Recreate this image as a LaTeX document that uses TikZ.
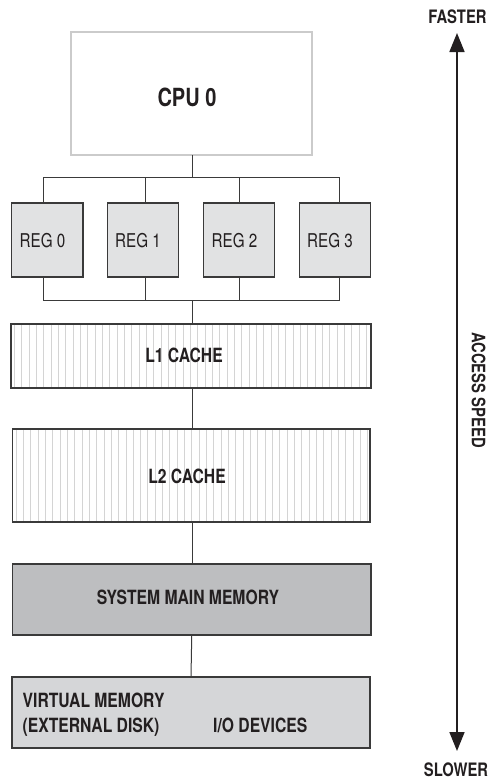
\documentclass[tikz,border=0pt]{standalone}
\usepackage{fontspec}
\setmainfont{TeX Gyre Heros}[FakeStretch=0.8]
\usetikzlibrary{arrows.meta}
\definecolor{boxline}{HTML}{3A3A3A}
\definecolor{cpuborder}{HTML}{CBCBCB}
\definecolor{regfill}{HTML}{E1E2E3}
\definecolor{smmfill}{HTML}{BDBEC0}
\definecolor{vmfill}{HTML}{D5D6D8}
\definecolor{hatchcol}{HTML}{D4D4D4}
\definecolor{txt}{HTML}{231F20}
\tikzset{
  box/.style={draw=boxline, line width=1.2pt, inner sep=0pt, outer sep=0pt, rectangle},
  cpubox/.style={draw=cpuborder, line width=2pt, fill=white, inner sep=0pt, outer sep=0pt, rectangle},
  regbox/.style={box, fill=regfill, minimum width=71.5pt, minimum height=74pt},
  hatched/.style={box, fill=white, path picture={
      \foreach \i in {0,...,52}{
        \draw[hatchcol, line width=0.9pt]
          ([xshift={3.5+7.33*\i}] path picture bounding box.south west) --
          ([xshift={3.5+7.33*\i}] path picture bounding box.north west);
      }}},
  wire/.style={draw=boxline, line width=1pt},
  lbl/.style={text=txt, inner sep=0pt, font=\bfseries\fontsize{19.6}{22}\selectfont, anchor=base},
  sidelbl/.style={text=txt, inner sep=0pt, font=\bfseries\fontsize{18.5}{22}\selectfont, anchor=base},
  reglbl/.style={text=txt, inner sep=0pt, font=\fontsize{19}{22}\selectfont, anchor=base},
  speedarrow/.style={draw=txt, line width=1.7pt, {Triangle[length=19pt,width=15pt]}-{Triangle[length=19pt,width=15pt]}}
}
\begin{document}
\begin{tikzpicture}[x=1pt,y=-1pt]
\useasboundingbox (0,0) rectangle (491,780);

% CPU
\node[cpubox, minimum width=241pt, minimum height=123pt] (cpu) at (191.5,93.5) {};
\node[lbl, font=\bfseries\fontsize{25}{28}\selectfont] (cputxt) at (187,106.5) {CPU 0};

% registers
\node[regbox] (r0) at (47.25,240) {};
\node[regbox] (r1) at (143,240) {};
\node[regbox] (r2) at (239,240) {};
\node[regbox] (r3) at (335,240) {};
\node[reglbl] (r0t) at (42.5,247) {REG 0};
\node[reglbl] (r1t) at (138,247) {REG 1};
\node[reglbl] (r2t) at (234.5,247) {REG 2};
\node[reglbl] (r3t) at (330,247) {REG 3};

% caches and memory
\node[hatched, minimum width=360pt, minimum height=64pt] (l1) at (191,356) {};
\node[lbl] (l1t) at (184,362) {L1 CACHE};
\node[hatched, minimum width=357.5pt, minimum height=93pt] (l2) at (191.25,475.5) {};
\node[lbl] (l2t) at (187,483.5) {L2 CACHE};
\node[box, fill=smmfill, minimum width=358.5pt, minimum height=71pt] (smm) at (191.75,599.5) {};
\node[lbl] (smmt) at (188,604) {SYSTEM MAIN MEMORY};
\node[box, fill=vmfill, minimum width=358pt, minimum height=71pt] (vm) at (191,712.5) {};
\node[lbl, anchor=base west] (vm1) at (22.5,707) {VIRTUAL MEMORY};
\node[lbl, anchor=base west] (vm2) at (22.5,732) {(EXTERNAL DISK)};
\node[lbl, anchor=base west] (io) at (213,732) {I/O DEVICES};

% buses
\coordinate (t0) at (43,177);
\coordinate (t1) at (145,177);
\coordinate (t2) at (239,177);
\coordinate (t3) at (339,177);
\coordinate (tc) at (192,177);
\coordinate (b0) at (43,300);
\coordinate (b1) at (145,300);
\coordinate (b2) at (239,300);
\coordinate (b3) at (339,300);
\coordinate (bc) at (192,300);

\draw[wire] (tc |- cpu.south) -- (tc);
\draw[wire] (t0 |- r0.north) -- (t0) -- (t3) -- (t3 |- r3.north);
\draw[wire] (t1) -- (t1 |- r1.north);
\draw[wire] (t2) -- (t2 |- r2.north);
\draw[wire] (b0 |- r0.south) -- (b0) -- (b3) -- (b3 |- r3.south);
\draw[wire] (b1 |- r1.south) -- (b1);
\draw[wire] (b2 |- r2.south) -- (b2);
\draw[wire] (bc) -- (bc |- l1.north);
\draw[wire] (bc |- l1.south) -- (bc |- l2.north);
\draw[wire] (bc |- l2.south) -- (bc |- smm.north);
\draw[wire] (smm.south) -- (vm.north);

% access speed arrow
\node[sidelbl] (faster) at (457.5,23) {FASTER};
\node[sidelbl] (slower) at (456,776.5) {SLOWER};
\coordinate (ftip) at (457,33);
\coordinate (stip) at (457,751);
\draw[speedarrow] (ftip) -- (stip);
\node[text=txt, inner sep=0pt, font=\bfseries\fontsize{18.5}{22}\selectfont, rotate=-90] (speed) at (478.5,390) {ACCESS SPEED};
\end{tikzpicture}
\end{document}
